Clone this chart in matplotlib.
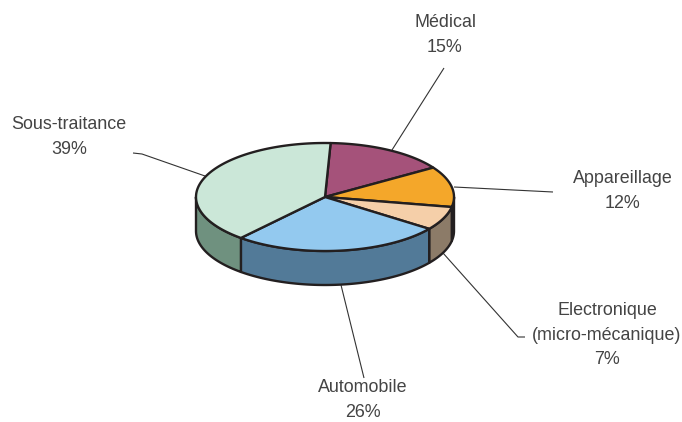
import numpy as np
import matplotlib
matplotlib.use('Agg')
import matplotlib.pyplot as plt
from matplotlib.patches import Polygon

plt.rcParams['font.family'] = ['Liberation Sans', 'DejaVu Sans']

# Data, clockwise from the top of the pie
categories = ['Médical', 'Appareillage', 'Electronique\n(micro-mécanique)', 'Automobile', 'Sous-traitance']
values = [15, 12, 7, 26, 39]
top_colors = ['#a5527a', '#f4a72a', '#f5cfa9', '#93c9ef', '#cbe7d8']
side_colors = ['#6b3550', '#b07a20', '#8c7b68', '#527a98', '#6f917f']

# Pie geometry, in pixels
CX, CY = 325, 197
RX, RY = 129, 54
DEPTH = 34
START_ANGLE = 87.5
EDGE = '#231f20'
TEXT = '#444444'

# Leader lines and label centres, in pixels
leaders = [
    ([392, 444], [150, 68]),
    ([454, 553], [187, 192]),
    ([443, 518, 525], [253, 337, 337]),
    ([341, 364], [285, 378]),
    ([205, 142, 133], [176, 154, 153]),
]
label_pos = [(445, 35), (623, 191), (607, 335), (363, 400), (69, 137)]


def ellipse_xy(a0, a1, dy=0):
    t = np.radians(np.linspace(a0, a1, max(int(abs(a1 - a0)), 2) + 1))
    return CX + RX * np.cos(t), CY - RY * np.sin(t) + dy


fig = plt.figure(figsize=(6.82, 4.22), dpi=100)
ax = fig.add_axes([0, 0, 1, 1])
ax.set_xlim(0, 682)
ax.set_ylim(422, 0)
ax.axis('off')

for (lx, ly) in leaders:
    ax.plot(lx, ly, color='#333333', lw=0.8, zorder=1, solid_capstyle='butt')

# Slice angles, going clockwise
total = sum(values)
edges = START_ANGLE - np.cumsum([0] + values) * 360 / total

# Side walls: only the front half of the ellipse (180 to 360 degrees) shows
for i in range(len(values)):
    a0, a1 = edges[i], edges[i + 1]
    for shift in (0, -360):
        lo, hi = max(a1 + shift, -180), min(a0 + shift, 0)
        if hi <= lo:
            continue
        x, y = ellipse_xy(hi, lo)
        xb, yb = ellipse_xy(lo, hi, DEPTH)
        pts = np.column_stack([np.r_[x, xb], np.r_[y, yb]])
        ax.add_patch(Polygon(pts, closed=True, fc=side_colors[i], ec=EDGE, lw=1.7,
                             joinstyle='round', zorder=2))

# Top slices
for i in range(len(values)):
    x, y = ellipse_xy(edges[i], edges[i + 1])
    pts = np.column_stack([np.r_[CX, x], np.r_[CY, y]])
    ax.add_patch(Polygon(pts, closed=True, fc=top_colors[i], ec=EDGE, lw=1.7,
                         joinstyle='round', zorder=3))

for name, val, (tx, ty) in zip(categories, values, label_pos):
    ax.text(tx, ty, f'{name}\n{val}%', ha='center', va='center', ma='center',
            fontsize=12.9, color=TEXT, linespacing=1.55)

fig.savefig('out.png', dpi=100)
